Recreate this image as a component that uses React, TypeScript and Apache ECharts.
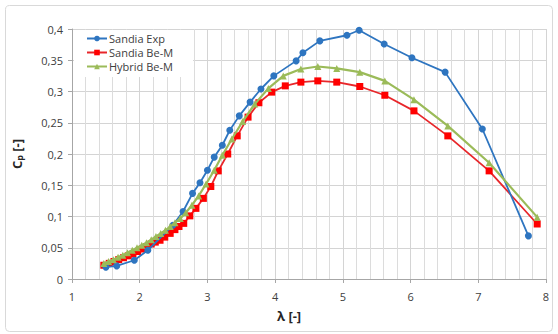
import React, { useEffect, useRef } from "react";
import * as echarts from "echarts";

const expLambda = [1.5, 1.66, 1.92, 2.12, 2.49, 2.64, 2.78, 2.89, 3.0, 3.1, 3.22, 3.33, 3.47, 3.63, 3.79, 3.98, 4.31, 4.41, 4.66, 5.06, 5.24, 5.61, 6.02, 6.51, 7.06, 7.74];
const expCp = [0.019, 0.021, 0.03, 0.046, 0.086, 0.108, 0.137, 0.154, 0.174, 0.195, 0.214, 0.238, 0.261, 0.283, 0.304, 0.325, 0.349, 0.362, 0.381, 0.39, 0.398, 0.376, 0.354, 0.331, 0.24, 0.069];

const bemLambda = [1.47, 1.55, 1.62, 1.69, 1.76, 1.83, 1.9, 1.97, 2.04, 2.1, 2.17, 2.23, 2.3, 2.37, 2.45, 2.52, 2.58, 2.65, 2.74, 2.83, 2.94, 3.05, 3.16, 3.3, 3.44, 3.6, 3.76, 3.95, 4.15, 4.38, 4.63, 4.91, 5.25, 5.62, 6.05, 6.55, 7.16, 7.87];
const bemCp = [0.022, 0.025, 0.028, 0.031, 0.034, 0.037, 0.04, 0.044, 0.048, 0.052, 0.056, 0.059, 0.062, 0.067, 0.073, 0.079, 0.084, 0.089, 0.101, 0.113, 0.129, 0.148, 0.173, 0.2, 0.229, 0.259, 0.282, 0.299, 0.309, 0.315, 0.317, 0.315, 0.308, 0.294, 0.269, 0.229, 0.173, 0.088];

const hybLambda = [1.47, 1.54, 1.61, 1.68, 1.75, 1.82, 1.89, 1.96, 2.03, 2.1, 2.17, 2.24, 2.31, 2.38, 2.45, 2.52, 2.6, 2.68, 2.77, 2.87, 2.98, 3.1, 3.22, 3.36, 3.52, 3.7, 3.9, 4.12, 4.38, 4.63, 4.91, 5.25, 5.62, 6.05, 6.55, 7.16, 7.87];
const hybCp = [0.025, 0.028, 0.031, 0.035, 0.038, 0.042, 0.046, 0.05, 0.054, 0.058, 0.063, 0.068, 0.073, 0.078, 0.084, 0.09, 0.097, 0.106, 0.118, 0.133, 0.152, 0.174, 0.198, 0.224, 0.252, 0.28, 0.305, 0.325, 0.336, 0.34, 0.337, 0.331, 0.317, 0.287, 0.245, 0.186, 0.099];

const seriesNames = ["Sandia Exp", "Sandia Be-M", "Hybrid Be-M"];
const xTitle = "λ [-]";

const zip = (xs: number[], ys: number[]) => xs.map((x, i) => [x, ys[i]]);

export default function App() {
  const ref = useRef<HTMLDivElement>(null);
  useEffect(() => {
    if (!ref.current) return;
    const chart = echarts.init(ref.current, undefined, { renderer: "svg" });
    const font = "Open Sans";
    chart.setOption({
      animation: false,
      backgroundColor: "#ffffff",
      textStyle: { fontFamily: font },
      grid: { left: 72, right: 12, top: 29, bottom: 55, containLabel: false },
      graphic: [
        {
          type: "rect",
          shape: { x: 5.5, y: 5.5, width: 547, height: 326, r: 4 },
          style: { fill: "none", stroke: "#d9d9d9", lineWidth: 1 },
          z: -1,
        },
        {
          type: "text",
          left: 277,
          top: 309,
          style: { text: xTitle, fontSize: 13, fontWeight: "bold", fill: "#262626", fontFamily: font },
        },
      ],
      legend: {
        orient: "vertical",
        left: 74,
        top: 30,
        padding: [3, 20, 5, 12],
        itemGap: 3,
        itemWidth: 20,
        itemHeight: 7,
        backgroundColor: "#ffffff",
        textStyle: { fontSize: 11, color: "#404040", fontFamily: font, padding: [0, 0, 0, -3] },
        data: seriesNames,
      },
      xAxis: {
        type: "value",
        min: 1,
        max: 8,
        interval: 1,
        axisLine: { show: true, lineStyle: { color: "#a6a6a6" } },
        axisTick: { show: true, length: 4, lineStyle: { color: "#a6a6a6" } },
        axisLabel: { fontSize: 11, color: "#404040", margin: 12, fontFamily: font },
        splitLine: { show: true, lineStyle: { color: "#d4d4d4", width: 1 } },
        minorTick: { show: false, splitNumber: 5 },
        minorSplitLine: { show: true, lineStyle: { color: "#dcdcdc", width: 1 } },
      },
      yAxis: {
        type: "value",
        min: 0,
        max: 0.4,
        interval: 0.05,
        name: "{c|C}{p|p}{c| [-]}",
        nameLocation: "middle",
        nameRotate: 90,
        nameGap: 48,
        nameTextStyle: {
          rich: {
            c: { fontSize: 13, fontWeight: "bold", color: "#262626", fontFamily: font },
            p: { fontSize: 9, fontWeight: "bold", color: "#262626", fontFamily: font, padding: [6, 0, 0, 0] },
          },
        },
        axisLine: { show: true, lineStyle: { color: "#a6a6a6" } },
        axisTick: { show: true, length: 4, lineStyle: { color: "#a6a6a6" } },
        axisLabel: {
          fontSize: 11,
          color: "#404040",
          margin: 9,
          fontFamily: font,
          formatter: (v: number) => String(Math.round(v * 100) / 100).replace(".", ","),
        },
        splitLine: { show: true, lineStyle: { color: "#d4d4d4", width: 1 } },
      },
      series: [
        {
          name: seriesNames[0],
          type: "line",
          data: zip(expLambda, expCp),
          symbol: "circle",
          symbolSize: 7,
          itemStyle: { color: "#2e75c0" },
          lineStyle: { color: "#2e75c0", width: 1.8 },
          z: 3,
        },
        {
          name: seriesNames[1],
          type: "line",
          data: zip(bemLambda, bemCp),
          symbol: "rect",
          symbolSize: 7,
          itemStyle: { color: "#ff0000" },
          lineStyle: { color: "#e8262a", width: 1.8 },
          z: 2,
        },
        {
          name: seriesNames[2],
          type: "line",
          data: zip(hybLambda, hybCp),
          symbol: "triangle",
          symbolSize: 7,
          itemStyle: { color: "#9bbb59" },
          lineStyle: { color: "#9bbb59", width: 2.2 },
          z: 4,
        },
      ],
    });
    return () => chart.dispose();
  }, []);
  return (
    <div
      ref={ref}
      style={{ position: "fixed", left: 0, top: 0, width: 558, height: 334 }}
    />
  );
}
